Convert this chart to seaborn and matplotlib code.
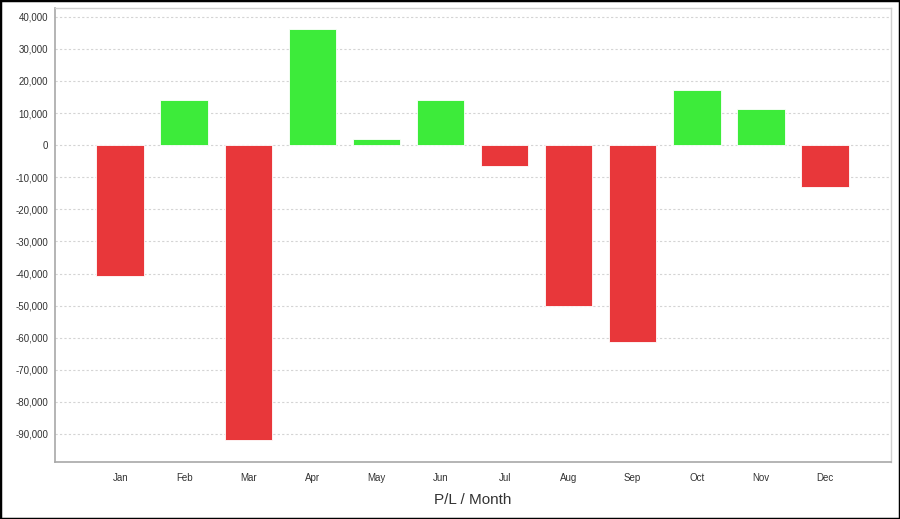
import matplotlib
matplotlib.use("Agg")
import matplotlib.pyplot as plt
import seaborn as sns
import pandas as pd
from matplotlib.ticker import FuncFormatter, MultipleLocator
from matplotlib.patches import Rectangle

months = ["Jan", "Feb", "Mar", "Apr", "May", "Jun", "Jul", "Aug", "Sep", "Oct", "Nov", "Dec"]
pl_values = [-40650, 14000, -91750, 36100, 1800, 14100, -6500, -50200, -61300, 17300, 11200, -13050]

sns.set_theme(style="white")
plt.rcParams["font.family"] = ["Liberation Sans", "DejaVu Sans"]

df = pd.DataFrame({"month": months, "pl": pl_values})
df["sign"] = ["Profit" if v >= 0 else "Loss" for v in df["pl"]]

fig = plt.figure(figsize=(9, 5.19), dpi=100)
ax = fig.add_axes([0.0611, 0.1104, 0.9286, 0.8736])

sns.barplot(data=df, x="month", y="pl", hue="sign",
            palette={"Profit": "#3deb3a", "Loss": "#e8373a"},
            dodge=False, width=0.745, legend=False, ax=ax,
            edgecolor="#ffffff", linewidth=0.6, saturation=1)

ax.set_xlim(-1.02, 12.03)
ax.set_ylim(-98650, 42650)
ax.yaxis.set_major_locator(MultipleLocator(10000))
ax.yaxis.set_major_formatter(FuncFormatter(lambda v, p: f"{int(round(v)):,}"))
ax.grid(axis="y", color="#d4d4d4", linestyle=(0, (2, 2)), linewidth=0.8)
ax.set_axisbelow(True)

for s in ["top", "right"]:
    ax.spines[s].set_color("#d0d0d0")
    ax.spines[s].set_linewidth(1.0)
for s in ["left", "bottom"]:
    ax.spines[s].set_color("#a8a8a8")
    ax.spines[s].set_linewidth(1.2)

ax.tick_params(axis="both", which="major", labelsize=7, colors="#333333",
               length=2, width=0.8, direction="out", color="#a8a8a8", pad=3)
ax.tick_params(axis="x", pad=6)
ax.set_ylabel("")
ax.set_xlabel("P/L / Month", fontsize=11, color="#333333", labelpad=7)

fig.patches.append(Rectangle((0, 0), 1, 1, transform=fig.transFigure,
                             fill=False, edgecolor="black", linewidth=2.5, zorder=10))

fig.savefig("out.png", dpi=100)
